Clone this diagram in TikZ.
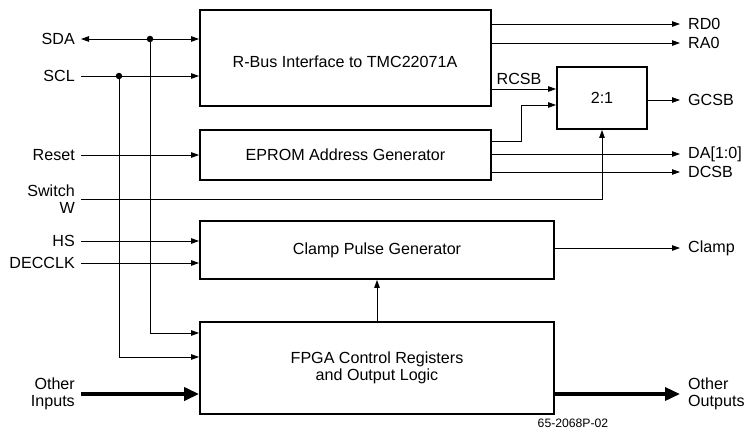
\documentclass[tikz,border=0pt]{standalone}
\usepackage{fontspec}
\setmainfont{Liberation Sans}
\usetikzlibrary{arrows.meta,calc}
\begin{document}
\begin{tikzpicture}[x=1pt,y=-1pt,
  every node/.style={font=\fontsize{16.1}{17}\selectfont},
  blk/.style={draw,line width=1.8pt,inner sep=0pt,align=center},
  lbl/.style={inner ysep=0pt,inner xsep=6pt,anchor=east,align=right},
  rlbl/.style={inner ysep=0pt,inner xsep=8pt,anchor=west,align=left},
  sig/.style={line width=0.9pt,-{Triangle[length=8pt,width=5.5pt]}},
  bus/.style={line width=3.5pt,-{Triangle[length=15pt,width=13pt]}},
  dot/.style={circle,fill,inner sep=0pt,minimum size=6.5pt}]
\useasboundingbox (0,0) rectangle (744,440);
% blocks
\node[blk,minimum width=291pt,minimum height=96pt] (rbus) at (345.5,58) {};
\node at (345,62) (rbustxt) {R-Bus Interface to TMC22071A};
\node[blk,minimum width=291pt,minimum height=50pt] (eprom) at (345.5,155) {EPROM Address Generator};
\node[blk,minimum width=90pt,minimum height=62pt] (mux) at (602,98) {2:1};
\node[blk,minimum width=354pt,minimum height=58pt] (clamp) at (377,250) {Clamp Pulse Generator};
\node[blk,minimum width=354pt,minimum height=92pt] (fpga) at (377,368) {FPGA Control Registers\\and Output Logic};
% left labels
\node[lbl] (sda) at (81,39) {SDA};
\node[lbl] (scl) at (81,76) {SCL};
\node[lbl] (reset) at (81,155) {Reset};
\node[lbl] (sw) at (81,199) {Switch\\W};
\node[lbl] (hs) at (81,241) {HS};
\node[lbl] (dec) at (81,263) {DECCLK};
\node[lbl] (oin) at (81,394) {Other\\Inputs};
% right labels
\node[rlbl] (rd0) at (680,24) {RD0};
\node[rlbl] (ra0) at (680,43) {RA0};
\node[rlbl] (gcsb) at (680,100) {GCSB};
\node[rlbl] (da) at (680,154) {DA[1:0]};
\node[rlbl] (dcsb) at (680,172) {DCSB};
\node[rlbl] (clampo) at (680,248) {Clamp};
\node[rlbl] (oout) at (680,394) {Other\\Outputs};
\node[inner sep=0pt] (rcsb) at (519,79) {RCSB};
\node[font=\fontsize{12.2}{14}\selectfont] (code) at (573,423) {65-2068P-02};
% junctions
\node[dot] (j1) at (150,39) {};
\node[dot] (j2) at (119,76) {};
\coordinate (e1) at (521,141);
\coordinate (e2) at (521,105);
% inputs
\draw[sig,{Triangle[length=8pt,width=5.5pt]}-{Triangle[length=8pt,width=5.5pt]}] (sda.east) -- (sda.east -| rbus.west);
\draw[sig] (scl.east) -- (scl.east -| rbus.west);
\draw[sig] (reset.east) -- (reset.east -| eprom.west);
\draw[sig] (sw.east) -| (mux.south);
\draw[sig] (hs.east) -- (hs.east -| clamp.west);
\draw[sig] (dec.east) -- (dec.east -| clamp.west);
\draw[sig] (j1.center) |- ($(fpga.west)+(0,-35)$);
\draw[sig] (j2.center) |- ($(fpga.west)+(0,-11)$);
\draw[bus] (oin.east) -- (oin.east -| fpga.west);
% outputs
\draw[sig] (rd0.west -| rbus.east) -- (rd0.west);
\draw[sig] (ra0.west -| rbus.east) -- (ra0.west);
\draw[sig] (rbus.east |- 0,89) -- (mux.west |- 0,89);
\draw[sig] (eprom.east |- e1) -- (e1) -- (e2) -- (e2 -| mux.west);
\draw[sig] (mux.east |- gcsb.west) -- (gcsb.west);
\draw[sig] (da.west -| eprom.east) -- (da.west);
\draw[sig] (dcsb.west -| eprom.east) -- (dcsb.west);
\draw[sig] (clampo.west -| clamp.east) -- (clampo.west);
\draw[sig] (fpga.north) -- (clamp.south);
\draw[bus] (oout.west -| fpga.east) -- (oout.west);
\end{tikzpicture}
\end{document}
